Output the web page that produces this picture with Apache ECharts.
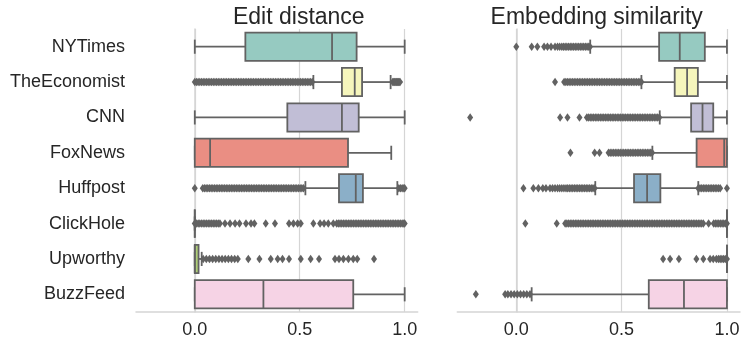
<!DOCTYPE html>
<html>
<head>
<meta charset="utf-8">
<script src="https://cdn.jsdelivr.net/npm/echarts@6/dist/echarts.min.js"></script>
<style>
html,body{margin:0;padding:0;background:#fff;}
#chart{width:747px;height:339px;}
</style>
</head>
<body>
<div id="chart"></div>
<script>
// ---- data ----
var categories = ['NYTimes','TheEconomist','CNN','FoxNews','Huffpost','ClickHole','Upworthy','BuzzFeed'];
var xTicks = [0, 0.5, 1.0];
var titles = ['Edit distance', 'Embedding similarity'];

// [whisker low, Q1, median, Q3, whisker high]
var editStats = [
  [0, 0.241, 0.654, 0.771, 1.0],
  [0.565, 0.701, 0.762, 0.797, 0.933],
  [0, 0.441, 0.701, 0.781, 1.0],
  [0, 0, 0.073, 0.730, 0.936],
  [0.527, 0.687, 0.767, 0.801, 0.965],
  [0, 0, 0, 0, 0],
  [0, 0, 0, 0.018, 0.033],
  [0, 0, 0.327, 0.755, 1.0]
];
var embedStats = [
  [0.351, 0.678, 0.776, 0.895, 1.0],
  [0.594, 0.752, 0.811, 0.862, 1.0],
  [0.681, 0.830, 0.884, 0.935, 1.0],
  [0.646, 0.856, 0.987, 1.0, 1.0],
  [0.375, 0.559, 0.621, 0.684, 0.864],
  [1.0, 1.0, 1.0, 1.0, 1.0],
  [1.0, 1.0, 1.0, 1.0, 1.0],
  [0.073, 0.629, 0.796, 1.0, 1.0]
];

var editOutNYTimes = [];
var editOutEconomist = [0,0.008,0.016,0.024,0.032,0.04,0.048,0.056,0.064,0.072,0.08,0.088,0.096,0.104,0.112,0.12,0.128,0.136,0.144,0.152,0.16,0.168,0.176,0.184,0.192,0.2,0.208,0.216,0.224,0.232,0.24,0.248,0.256,0.264,0.272,0.28,0.288,0.296,0.304,0.312,0.32,0.328,0.336,0.344,0.352,0.36,0.368,0.376,0.384,0.392,0.4,0.408,0.416,0.424,0.432,0.44,0.448,0.456,0.464,0.472,0.48,0.488,0.496,0.504,0.512,0.52,0.528,0.536,0.544,0.552,0.56,
  0.943,0.948,0.952,0.957,0.961,0.966,0.97,0.974,0.978];
var editOutCNN = [];
var editOutFoxNews = [];
var editOutHuffpost = [0.0,0.038,0.046,0.054,0.062,0.07,0.078,0.086,0.094,0.102,0.11,0.118,0.126,0.134,0.142,0.15,0.158,0.166,0.174,0.182,0.19,0.198,0.206,0.214,0.222,0.23,0.238,0.246,0.254,0.262,0.27,0.278,0.286,0.294,0.302,0.31,0.318,0.326,0.334,0.342,0.35,0.358,0.366,0.374,0.382,0.39,0.398,0.406,0.414,0.422,0.43,0.438,0.446,0.454,0.462,0.47,0.478,0.486,0.494,0.502,0.51,0.518,
  0.972,0.98,0.988,0.996,1.0];
var editOutClickHole = [0,0.008,0.016,0.024,0.032,0.04,0.048,0.056,0.064,0.072,0.08,0.088,0.096,0.104,0.112,0.12,
  0.144,0.168,0.192,0.213,0.244,0.268,0.284,0.338,0.382,0.449,0.47,0.49,0.505,0.565,0.597,0.616,0.636,0.66,
  0.676,0.684,0.692,0.7,0.708,0.716,0.724,0.732,0.74,0.748,0.756,0.764,0.772,0.78,0.788,0.796,0.804,0.812,0.82,0.828,0.836,0.844,0.852,0.86,0.868,0.876,0.884,0.892,0.9,0.908,0.916,0.924,0.932,0.94,0.948,0.956,0.964,0.972,0.98,0.988,0.996,1.0];
var editOutUpworthy = [0.04,0.055,0.07,0.085,0.1,0.115,0.13,0.145,0.16,0.175,0.19,0.205,0.255,0.308,0.362,0.395,0.418,0.449,0.505,0.552,0.592,0.668,0.687,0.708,0.732,0.755,0.774,0.854];
var editOutBuzzFeed = [];

var embedOutNYTimes = [0.0,0.073,0.1,0.132,0.148,0.165,0.184,0.196,0.206,0.216,0.224,0.232,0.24,0.248,0.256,0.264,0.272,0.28,0.288,0.296,0.304,0.312,0.32,0.328,0.336,0.344,0.35];
var embedOutEconomist = [0.184,0.227,0.235,0.243,0.251,0.259,0.267,0.275,0.283,0.291,0.299,0.307,0.315,0.323,0.331,0.339,0.347,0.355,0.363,0.371,0.379,0.387,0.395,0.403,0.411,0.419,0.427,0.435,0.443,0.451,0.459,0.467,0.475,0.483,0.491,0.499,0.507,0.515,0.523,0.531,0.539,0.547,0.555,0.563,0.571,0.579,0.587,0.594];
var embedOutCNN = [-0.219,0.208,0.243,0.3,0.335,0.343,0.351,0.359,0.367,0.375,0.383,0.391,0.399,0.407,0.415,0.423,0.431,0.439,0.447,0.455,0.463,0.471,0.479,0.487,0.495,0.503,0.511,0.519,0.527,0.535,0.543,0.551,0.559,0.567,0.575,0.583,0.591,0.599,0.607,0.615,0.623,0.631,0.639,0.647,0.655,0.663,0.671,0.679];
var embedOutFoxNews = [0.257,0.372,0.395,0.438,0.446,0.454,0.462,0.47,0.478,0.486,0.494,0.502,0.51,0.518,0.526,0.534,0.542,0.55,0.558,0.566,0.574,0.582,0.59,0.598,0.606,0.614,0.622,0.63,0.638,0.645];
var embedOutHuffpost = [0.034,0.081,0.105,0.126,0.141,0.16,0.172,0.184,0.196,0.206,0.216,0.226,0.236,0.244,0.252,0.26,0.268,0.276,0.284,0.292,0.3,0.308,0.316,0.324,0.332,0.34,0.348,0.356,0.364,0.372,
  0.864,0.872,0.88,0.888,0.896,0.904,0.912,0.92,0.928,0.936,0.944,0.952,0.96,0.968,1.0];
var embedOutClickHole = [0.043,0.192,0.232,0.24,0.248,0.256,0.264,0.272,0.28,0.288,0.296,0.304,0.312,0.32,0.328,0.336,0.344,0.352,0.36,0.368,0.376,0.384,0.392,0.4,0.408,0.416,0.424,0.432,0.44,0.448,0.456,0.464,0.472,0.48,0.488,0.496,0.504,0.512,0.52,0.528,0.536,0.544,0.552,0.56,0.568,0.576,0.584,0.592,0.6,0.608,0.616,0.624,0.632,0.64,0.648,0.656,0.664,0.672,0.68,0.688,0.696,0.704,0.712,0.72,0.728,0.736,0.744,0.752,0.76,0.768,0.776,0.784,0.792,0.8,0.808,0.816,0.824,0.832,0.84,0.848,0.856,0.864,0.872,0.88,0.888,
  0.913,0.937,0.945,0.953,0.961,0.969,0.977,0.985,0.993,1.0];
var embedOutUpworthy = [0.697,0.73,0.772,0.855,0.888,0.92,0.935,0.95,0.96,0.968,0.976,0.984,0.992,1.0];
var embedOutBuzzFeed = [-0.192,-0.053,-0.04,-0.025,-0.01,0.005,0.02,0.035,0.05,0.065];

var editOutliers = [editOutNYTimes, editOutEconomist, editOutCNN, editOutFoxNews, editOutHuffpost, editOutClickHole, editOutUpworthy, editOutBuzzFeed];
var embedOutliers = [embedOutNYTimes, embedOutEconomist, embedOutCNN, embedOutFoxNews, embedOutHuffpost, embedOutClickHole, embedOutUpworthy, embedOutBuzzFeed];

// ---- styles ----
var boxColors = ['#96cac1', '#f6f6bc', '#c1bed6', '#ea8e83', '#8bafc8', '#eab375', '#afcf78', '#f6d3e5'];
var lineColor = '#626262';
var gridColor = '#d5d5d5';
var textColor = '#262626';
var FONT = '"Liberation Sans", Arial, sans-serif';
var LW = 1.8;

function renderBox(params, api) {
  var cat = api.value(0);
  var band = api.size([0, 1])[1];
  var h = band * 0.8;
  var y = api.coord([0, cat])[1];
  function px(i) { return api.coord([api.value(i), cat])[0]; }
  var xmin = px(1), xq1 = px(2), xmed = px(3), xq3 = px(4), xmax = px(5);
  var ls = { stroke: lineColor, lineWidth: LW };
  var cap = h / 4;
  return {
    type: 'group',
    children: [
      { type: 'line', shape: { x1: xmin, y1: y, x2: xq1, y2: y }, style: ls },
      { type: 'line', shape: { x1: xq3, y1: y, x2: xmax, y2: y }, style: ls },
      { type: 'line', shape: { x1: xmin, y1: y - cap, x2: xmin, y2: y + cap }, style: ls },
      { type: 'line', shape: { x1: xmax, y1: y - cap, x2: xmax, y2: y + cap }, style: ls },
      { type: 'rect', shape: { x: xq1, y: y - h / 2, width: xq3 - xq1, height: h },
        style: { fill: boxColors[params.dataIndex], stroke: lineColor, lineWidth: LW } },
      { type: 'line', shape: { x1: xmed, y1: y - h / 2, x2: xmed, y2: y + h / 2 }, style: ls }
    ]
  };
}

function outlierPoints(lists) {
  var pts = [];
  lists.forEach(function (arr, ci) {
    arr.forEach(function (v) { pts.push([v, ci]); });
  });
  return pts;
}

var grids = [
  { left: 136, top: 29, width: 281.7, height: 284 },
  { left: 457.3, top: 29, width: 282.7, height: 284 }
];

function xAxisFor(i) {
  return {
    type: 'value', gridIndex: i, min: -0.28, max: 1.062,
    axisLine: { show: true, lineStyle: { color: gridColor, width: 1.5 } },
    axisTick: { show: false, customValues: xTicks },
    splitLine: { show: true, lineStyle: { color: gridColor, width: 1.2 } },
    axisLabel: { customValues: xTicks, margin: 9, fontSize: 18, color: textColor, fontFamily: FONT,
      formatter: function (v) { return v.toFixed(1); } }
  };
}
function yAxisFor(i) {
  return {
    type: 'category', gridIndex: i, data: categories, inverse: true,
    axisLine: { show: true, lineStyle: { color: gridColor, width: 1.5 } },
    axisTick: { show: false },
    splitLine: { show: false },
    axisLabel: { show: i === 0, margin: 11, fontSize: 18, color: textColor, fontFamily: FONT }
  };
}

var statsList = [editStats, embedStats];
var outList = [editOutliers, embedOutliers];
var series = [];
[0, 1].forEach(function (i) {
  series.push({
    type: 'custom', xAxisIndex: i, yAxisIndex: i, z: 2,
    renderItem: renderBox,
    encode: { x: [1, 2, 3, 4, 5], y: 0 },
    data: statsList[i].map(function (s, ci) { return [ci].concat(s); })
  });
  series.push({
    type: 'scatter', xAxisIndex: i, yAxisIndex: i, z: 3,
    symbol: 'diamond', symbolSize: [6, 8.5],
    itemStyle: { color: lineColor, opacity: 1 },
    data: outlierPoints(outList[i])
  });
});

var chart = echarts.init(document.getElementById('chart'), null, { renderer: 'canvas' });
chart.setOption({
  animation: false,
  backgroundColor: '#ffffff',
  title: [
    { text: titles[0], left: 293.8, top: 1, textAlign: 'center',
      textStyle: { fontSize: 23, fontWeight: 'normal', color: textColor, fontFamily: FONT } },
    { text: titles[1], left: 591.7, top: 1, textAlign: 'center',
      textStyle: { fontSize: 23, fontWeight: 'normal', color: textColor, fontFamily: FONT } }
  ],
  grid: grids,
  xAxis: [xAxisFor(0), xAxisFor(1)],
  yAxis: [yAxisFor(0), yAxisFor(1)],
  series: series
});
</script>
</body>
</html>
